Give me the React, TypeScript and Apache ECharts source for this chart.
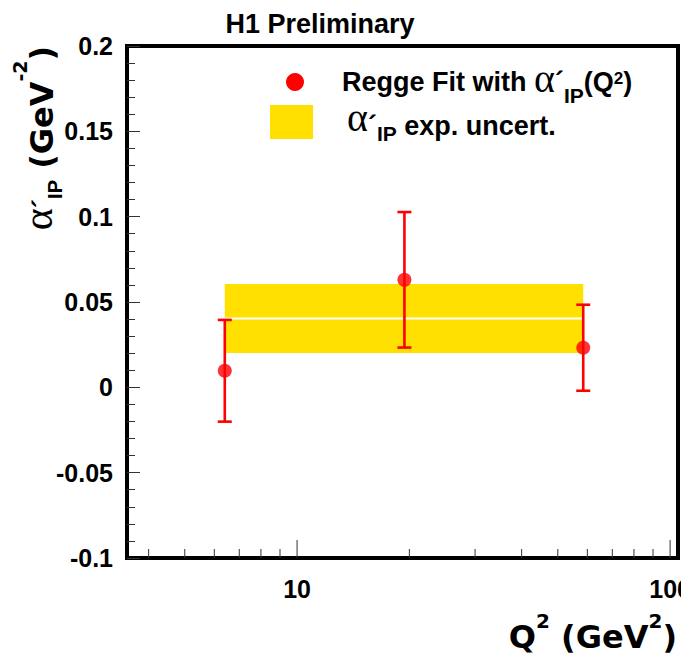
import React, { useEffect, useRef } from 'react';
import * as echarts from 'echarts';

// ---- data ----
const q2Values = [6.4, 19.4, 58.5];
const alphaValues = [0.0097, 0.063, 0.0232];
const alphaErrors = [0.0298, 0.0397, 0.0252];

const bandQ2Range = [6.4, 58.5];
const bandCenter = 0.0403;
const bandHalfWidth = 0.0202;

const xMinorTicks = [4, 5, 6, 7, 8, 9, 20, 30, 40, 50, 60, 70, 80, 90];
const xMajorTicks = [10, 100];

const X_MIN = 3.5;
const X_MAX = 105;
const Y_MIN = -0.1;
const Y_MAX = 0.2;
const Y_STEP = 0.05;

const SANS = '"Liberation Sans", Arial, Helvetica, sans-serif';
const WIDE = '"DejaVu Sans", "Liberation Sans", sans-serif';
const SERIF = '"Liberation Serif", "Times New Roman", serif';

function tickSeries(values: number[], len: number) {
  return {
    type: 'custom',
    coordinateSystem: 'cartesian2d',
    z: 5,
    silent: true,
    clip: false,
    data: values.map((v) => [v, Y_MIN]),
    encode: { x: 0, y: 1 },
    renderItem: (_p: any, api: any) => {
      const p = api.coord([api.value(0), api.value(1)]);
      return {
        type: 'line',
        shape: { x1: p[0], y1: p[1], x2: p[0], y2: p[1] - len },
        style: { stroke: '#333', lineWidth: 1 },
      };
    },
  };
}

export default function App() {
  const ref = useRef<HTMLDivElement>(null);

  useEffect(() => {
    if (!ref.current) return;
    const chart = echarts.init(ref.current, undefined, { renderer: 'svg' });

    const option: any = {
      animation: false,
      backgroundColor: '#fff',
      grid: {
        left: 127,
        right: 3,
        top: 46,
        bottom: 103,
        show: true,
        borderColor: '#000',
        borderWidth: 4,
        backgroundColor: 'transparent',
        containLabel: false,
        outerBoundsMode: 'none',
      },
      xAxis: {
        type: 'log',
        logBase: 10,
        min: X_MIN,
        max: X_MAX,
        axisLine: { show: false },
        axisTick: { show: false },
        splitLine: { show: false },
        axisLabel: {
          showMinLabel: true,
          showMaxLabel: true,
          margin: 18,
          color: '#000',
          fontSize: 25,
          fontWeight: 'bold',
          fontFamily: SANS,
          formatter: (v: number) => {
            const l = Math.log10(v);
            return Math.abs(l - Math.round(l)) < 1e-6 ? String(Math.round(v)) : '';
          },
        },
      },
      yAxis: {
        type: 'value',
        min: Y_MIN,
        max: Y_MAX,
        interval: Y_STEP,
        axisLine: { show: false },
        splitLine: { show: false },
        axisTick: { show: true, inside: true, length: 13, lineStyle: { color: '#333', width: 1 } },
        minorTick: { show: true, splitNumber: 5, length: 8, lineStyle: { color: '#333', width: 1 } },
        axisLabel: {
          margin: 14,
          color: '#000',
          fontSize: 25,
          fontWeight: 'bold',
          fontFamily: SANS,
        },
      },
      series: [
        {
          type: 'custom',
          name: 'band',
          coordinateSystem: 'cartesian2d',
          z: 1,
          silent: true,
          data: [[bandQ2Range[0], bandQ2Range[1], bandCenter, bandHalfWidth]],
          encode: { x: [0, 1], y: [2] },
          renderItem: (_p: any, api: any) => {
            const x0 = api.value(0);
            const x1 = api.value(1);
            const c = api.value(2);
            const h = api.value(3);
            const tl = api.coord([x0, c + h]);
            const br = api.coord([x1, c - h]);
            const ml = api.coord([x0, c]);
            const mr = api.coord([x1, c]);
            return {
              type: 'group',
              children: [
                {
                  type: 'rect',
                  shape: { x: tl[0], y: tl[1], width: br[0] - tl[0], height: br[1] - tl[1] },
                  style: { fill: '#ffe000' },
                },
                {
                  type: 'line',
                  shape: { x1: ml[0], y1: ml[1], x2: mr[0], y2: mr[1] },
                  style: { stroke: '#ffffff', lineWidth: 2 },
                },
              ],
            };
          },
        },
        {
          type: 'custom',
          name: 'errors',
          coordinateSystem: 'cartesian2d',
          z: 3,
          silent: true,
          data: q2Values.map((q, i) => [q, alphaValues[i], alphaErrors[i]]),
          encode: { x: 0, y: 1 },
          renderItem: (_p: any, api: any) => {
            const x = api.value(0);
            const y = api.value(1);
            const e = api.value(2);
            const top = api.coord([x, y + e]);
            const bot = api.coord([x, y - e]);
            const cap = 7;
            const st = { stroke: '#ff0000', lineWidth: 2.6 };
            return {
              type: 'group',
              children: [
                { type: 'line', shape: { x1: top[0], y1: top[1], x2: bot[0], y2: bot[1] }, style: st },
                { type: 'line', shape: { x1: top[0] - cap, y1: top[1], x2: top[0] + cap, y2: top[1] }, style: st },
                { type: 'line', shape: { x1: bot[0] - cap, y1: bot[1], x2: bot[0] + cap, y2: bot[1] }, style: st },
              ],
            };
          },
        },
        {
          type: 'scatter',
          name: 'Regge Fit',
          z: 4,
          symbol: 'circle',
          symbolSize: 14,
          itemStyle: { color: '#ff0000' },
          data: q2Values.map((q, i) => [q, alphaValues[i]]),
        },
        tickSeries(xMinorTicks, 9),
        tickSeries(xMajorTicks, 18),
      ],
      graphic: [
        {
          type: 'text',
          x: 320,
          y: 24,
          style: {
            text: 'H1 Preliminary',
            fontSize: 27,
            fontWeight: 'bold',
            fontFamily: SANS,
            fill: '#000',
            align: 'center',
            verticalAlign: 'middle',
          },
        },
        { type: 'circle', shape: { cx: 295, cy: 82, r: 9 }, style: { fill: '#ff0000' } },
        { type: 'rect', shape: { x: 270, y: 105, width: 43, height: 34 }, style: { fill: '#ffe000' } },
        {
          type: 'text',
          x: 342,
          y: 82,
          style: {
            text: '{m|Regge Fit with }{al|α}{pr|´}{sub|IP}{m|(Q}{sup|2}{m|)}',
            align: 'left',
            verticalAlign: 'middle',
            fill: '#000',
            rich: {
              m: { fontSize: 27, fontWeight: 'bold', fontFamily: SANS, fill: '#000' },
              al: { fontSize: 40, fontFamily: SERIF, fill: '#000', padding: [0, 0, 8, 0] },
              pr: { fontSize: 27, fontWeight: 'bold', fontFamily: SANS, fill: '#000' },
              sub: { fontSize: 21, fontWeight: 'bold', fontFamily: SANS, fill: '#000', padding: [26, 0, 0, 0] },
              sup: { fontSize: 17, fontWeight: 'bold', fontFamily: SANS, fill: '#000', padding: [0, 0, 8, 0] },
            },
          },
        },
        {
          type: 'text',
          x: 347,
          y: 126,
          style: {
            text: '{al|α}{pr|´}{sub|IP}{m| exp. uncert.}',
            align: 'left',
            verticalAlign: 'middle',
            fill: '#000',
            rich: {
              m: { fontSize: 27, fontWeight: 'bold', fontFamily: SANS, fill: '#000' },
              al: { fontSize: 40, fontFamily: SERIF, fill: '#000', padding: [0, 0, 18, 0] },
              pr: { fontSize: 27, fontWeight: 'bold', fontFamily: SANS, fill: '#000' },
              sub: { fontSize: 21, fontWeight: 'bold', fontFamily: SANS, fill: '#000', padding: [14, 0, 0, 0] },
            },
          },
        },
        {
          type: 'text',
          x: 677,
          y: 637,
          style: {
            text: '{m|Q}{sup|2}{m| (GeV}{sup|2}{m|)}',
            align: 'right',
            verticalAlign: 'middle',
            fill: '#000',
            rich: {
              m: { fontSize: 32, fontWeight: 'bold', fontFamily: WIDE, fill: '#000' },
              sup: { fontSize: 20, fontWeight: 'bold', fontFamily: WIDE, fill: '#000', padding: [0, 0, 32, 0] },
            },
          },
        },
        {
          type: 'text',
          x: 42,
          y: 138,
          rotation: Math.PI / 2,
          style: {
            text: '{al|α}{pr|´}{sub|IP}{m| (GeV}{sup|-2}{m|)}',
            align: 'center',
            verticalAlign: 'middle',
            fill: '#000',
            rich: {
              m: { fontSize: 32, fontWeight: 'bold', fontFamily: WIDE, fill: '#000' },
              al: { fontSize: 42, fontFamily: SERIF, fill: '#000', padding: [0, 0, 8, 0] },
              pr: { fontSize: 28, fontWeight: 'bold', fontFamily: SANS, fill: '#000' },
              sub: { fontSize: 20, fontWeight: 'bold', fontFamily: SANS, fill: '#000', padding: [26, 0, 0, 0] },
              sup: { fontSize: 19, fontWeight: 'bold', fontFamily: WIDE, fill: '#000', padding: [0, 0, 44, 0] },
            },
          },
        },
      ],
    };

    chart.setOption(option);
    return () => chart.dispose();
  }, []);

  return (
    <div
      ref={ref}
      style={{ position: 'fixed', left: 0, top: 0, width: 681, height: 661, background: '#fff' }}
    />
  );
}
